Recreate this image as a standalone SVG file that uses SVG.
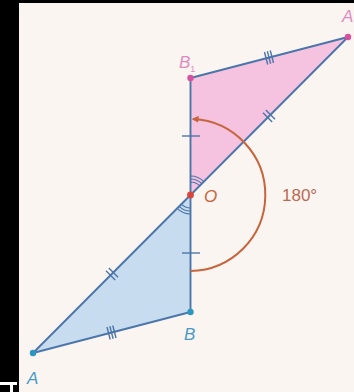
<svg xmlns="http://www.w3.org/2000/svg" width="354" height="392" viewBox="0 0 354 392">
<defs>
<style>
.edge{stroke:#4b76aa;stroke-width:1.9;fill:none;stroke-linecap:round}
.tick{stroke:#4b76aa;stroke-width:1.4;fill:none}
.ang{stroke:#4b76aa;stroke-width:1.1;fill:none}
.lbl{font-family:"Liberation Sans",Arial,sans-serif;font-size:17px;font-style:italic}
</style>
<marker id="arr" viewBox="0 0 10 10" refX="8" refY="5" markerWidth="7" markerHeight="7" orient="auto" markerUnits="userSpaceOnUse">
<path d="M0,0 L10,5 L0,10 z" fill="#c8643c"/>
</marker>
</defs>
<rect x="0" y="0" width="354" height="392" fill="#000"/>
<rect x="19" y="3" width="335" height="389" fill="#fbf5f1"/>
<rect x="0" y="382" width="17" height="3" fill="#fff"/>
<rect x="10" y="385" width="3" height="7" fill="#fff"/>
<g id="tri-image">
<polygon points="190.5,78 348,37 190.5,195" fill="#f5c3df"/>
</g>
<g id="tri-original">
<polygon points="190.5,312 33,353 190.5,195" fill="#c7dcef"/>
</g>
<g id="connectors">
<line class="edge" x1="190.5" y1="78" x2="348" y2="37"/>
<line class="edge" x1="348" y1="37" x2="190.5" y2="195"/>
<line class="edge" x1="190.5" y1="78" x2="190.5" y2="312"/>
<line class="edge" x1="190.5" y1="195" x2="33" y2="353"/>
<line class="edge" x1="33" y1="353" x2="190.5" y2="312"/>
<line class="tick" x1="182" y1="136" x2="200" y2="136"/>
<line class="tick" x1="182" y1="253" x2="200" y2="253"/>
<g transform="translate(269,116) rotate(-45)">
<line class="tick" x1="-2" y1="-6.5" x2="-2" y2="6.5"/><line class="tick" x1="2" y1="-6.5" x2="2" y2="6.5"/>
</g>
<g transform="translate(112,274) rotate(-45)">
<line class="tick" x1="-2" y1="-6.5" x2="-2" y2="6.5"/><line class="tick" x1="2" y1="-6.5" x2="2" y2="6.5"/>
</g>
<g transform="translate(269,57.5) rotate(-14.6)">
<line class="tick" x1="-3" y1="-6.5" x2="-3" y2="6.5"/><line class="tick" x1="0" y1="-6.5" x2="0" y2="6.5"/><line class="tick" x1="3" y1="-6.5" x2="3" y2="6.5"/>
</g>
<g transform="translate(111.5,332.5) rotate(-14.6)">
<line class="tick" x1="-3" y1="-6.5" x2="-3" y2="6.5"/><line class="tick" x1="0" y1="-6.5" x2="0" y2="6.5"/><line class="tick" x1="3" y1="-6.5" x2="3" y2="6.5"/>
</g>
<path class="ang" d="M190.5,182 A13,13 0 0 1 199.7,185.8 M190.5,179 A16,16 0 0 1 201.8,183.7 M190.5,176 A19,19 0 0 1 203.9,181.6"/>
<path class="ang" d="M190.5,208 A13,13 0 0 1 181.3,204.2 M190.5,211 A16,16 0 0 1 179.2,206.3 M190.5,214 A19,19 0 0 1 177.1,208.4"/>
<path d="M190.5,271 A76,76 0 0 0 193,119.1" fill="none" stroke="#c8643c" stroke-width="2" marker-end="url(#arr)"/>
</g>
<g id="node-A1">
<circle cx="348" cy="37" r="3.2" fill="#d9509f"/>
<text class="lbl" x="342" y="22" fill="#e08cc2">A</text>
</g>
<g id="node-B1">
<circle cx="190.5" cy="78" r="3.2" fill="#d9509f"/>
<text class="lbl" x="179" y="68" fill="#e08cc2">B<tspan font-size="9" font-style="normal" dy="4">1</tspan></text>
</g>
<g id="node-O">
<circle cx="190.5" cy="195" r="3.4" fill="#d9443c"/>
<text class="lbl" x="204" y="202" fill="#c8683c">O</text>
<text x="282" y="201" font-family="'Liberation Sans',Arial,sans-serif" font-size="17" fill="#b86a52">180°</text>
</g>
<g id="node-B">
<circle cx="190.5" cy="312" r="3.2" fill="#2b97c1"/>
<text class="lbl" x="184" y="340" fill="#4a9ac8">B</text>
</g>
<g id="node-A">
<circle cx="33" cy="353" r="3.2" fill="#2b97c1"/>
<text class="lbl" x="27" y="384" fill="#4a9ac8">A</text>
</g>
</svg>
